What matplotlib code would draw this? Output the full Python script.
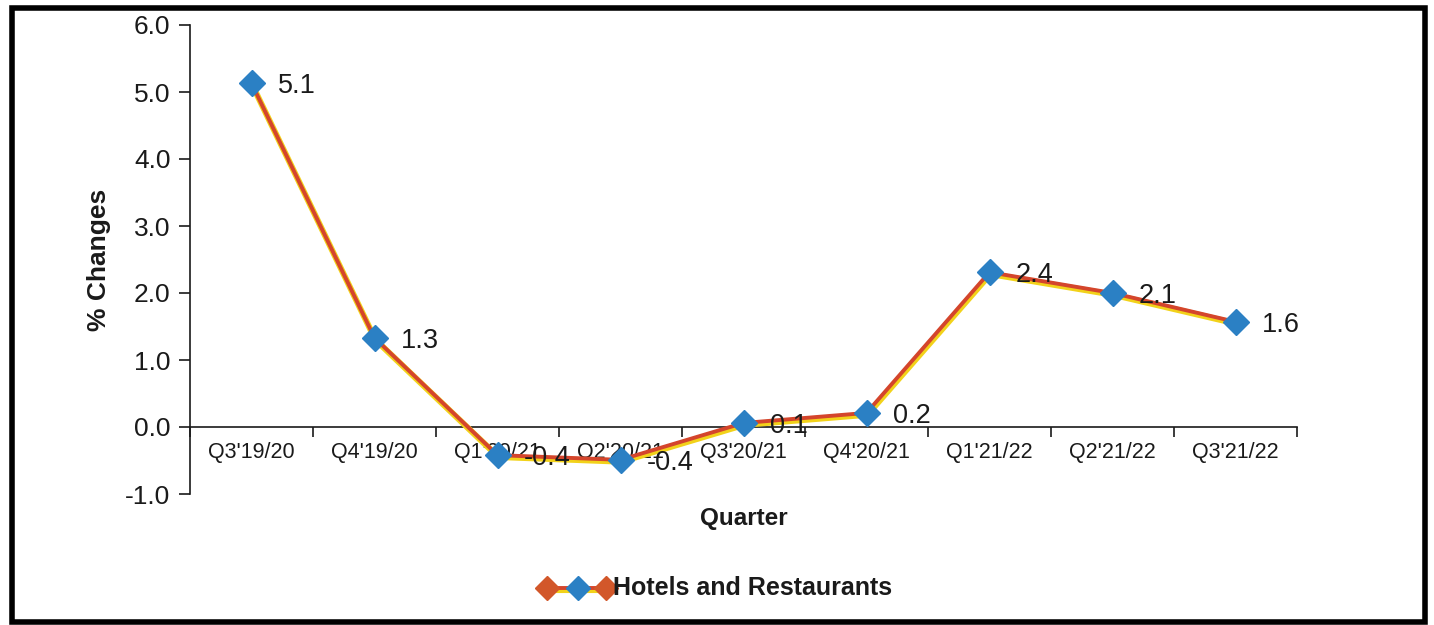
import matplotlib
matplotlib.use("Agg")
import matplotlib.pyplot as plt
import matplotlib.patheffects as pe
from matplotlib.lines import Line2D
from matplotlib.patches import Rectangle
from matplotlib.ticker import FixedLocator, FormatStrFormatter

plt.rcParams['font.family'] = ['Liberation Sans', 'DejaVu Sans']

categories = ["Q3'19/20", "Q4'19/20", "Q1'20/21", "Q2'20/21", "Q3'20/21",
              "Q4'20/21", "Q1'21/22", "Q2'21/22", "Q3'21/22"]
values = [5.13, 1.33, -0.42, -0.49, 0.06, 0.21, 2.31, 2.0, 1.57]
labels = ["5.1", "1.3", "-0.4", "-0.4", "0.1", "0.2", "2.4", "2.1", "1.6"]
series_name = "Hotels and Restaurants"
y_ticks = [-1.0, 0.0, 1.0, 2.0, 3.0, 4.0, 5.0, 6.0]

W, H = 1434, 625
fig = plt.figure(figsize=(W / 100, H / 100), dpi=100)
ax = fig.add_axes([190 / W, 1 - 494 / H, (1297 - 190) / W, (494 - 25) / H])

x = list(range(len(categories)))
line_color = '#D4452C'
marker_color = '#2B80C4'
ax.plot(x, values, color=line_color, lw=2.8, zorder=3,
        path_effects=[pe.Stroke(linewidth=4.4, foreground='#F2D21A', offset=(0.6, -1.3)),
                      pe.Normal()])
ax.plot(x, values, linestyle='none', marker='D', markersize=13,
        color=marker_color, markeredgecolor=marker_color, zorder=4)

for xi, v, lab in zip(x, values, labels):
    ax.annotate(lab, (xi, v), xytext=(19, -2), textcoords='offset points',
                ha='left', va='center', fontsize=19.5, color='#1a1a1a', zorder=5)

ax.set_xlim(-0.5, len(categories) - 0.5)
ax.set_ylim(-1.0, 6.0)
ax.set_yticks(y_ticks)
ax.yaxis.set_major_formatter(FormatStrFormatter('%.1f'))
ax.tick_params(axis='y', direction='out', length=8, width=1.2, labelsize=19,
               colors='#1a1a1a', pad=6)

ax.set_xticks(x)
ax.set_xticklabels(categories)
ax.xaxis.set_minor_locator(FixedLocator([i - 0.5 for i in range(len(categories) + 1)]))
ax.tick_params(axis='x', which='major', length=0, labelsize=15.5, colors='#1a1a1a', pad=11)
ax.tick_params(axis='x', which='minor', direction='out', length=7, width=1.2, color='#1a1a1a')

ax.spines['top'].set_visible(False)
ax.spines['right'].set_visible(False)
ax.spines['bottom'].set_position(('data', 0))
ax.spines['bottom'].set_linewidth(1.2)
ax.spines['left'].set_linewidth(1.2)
ax.spines['bottom'].set_color('#1a1a1a')
ax.spines['left'].set_color('#1a1a1a')

ax.set_ylabel('% Changes', fontsize=19, fontweight='bold', labelpad=10, color='#1a1a1a')
fig.text((190 + 1297) / 2 / W, 1 - 519 / H, 'Quarter', fontsize=17.5, fontweight='bold',
         ha='center', va='center', color='#1a1a1a')

# legend drawn manually
ly = 1 - 588 / H
fig.add_artist(Line2D([547 / W, 606 / W], [ly, ly], transform=fig.transFigure,
                      color=line_color, lw=2.8,
                      path_effects=[pe.Stroke(linewidth=4.4, foreground='#F2D21A', offset=(0.6, -1.3)),
                                    pe.Normal()]))
fig.add_artist(Line2D([547 / W, 606 / W], [ly, ly], transform=fig.transFigure,
                      linestyle='none', marker='D', markersize=12, color='#D2572A'))
fig.add_artist(Line2D([578 / W], [ly], transform=fig.transFigure,
                      linestyle='none', marker='D', markersize=12, color=marker_color))
fig.text(613 / W, ly, series_name, fontsize=18, fontweight='bold', ha='left',
         va='center', color='#1a1a1a')

fig.add_artist(Rectangle((12 / W, 1 - 622 / H), (1425 - 12) / W, (622 - 8) / H,
                         transform=fig.transFigure, fill=False, edgecolor='black', lw=4))

fig.savefig('out.png', dpi=100)
